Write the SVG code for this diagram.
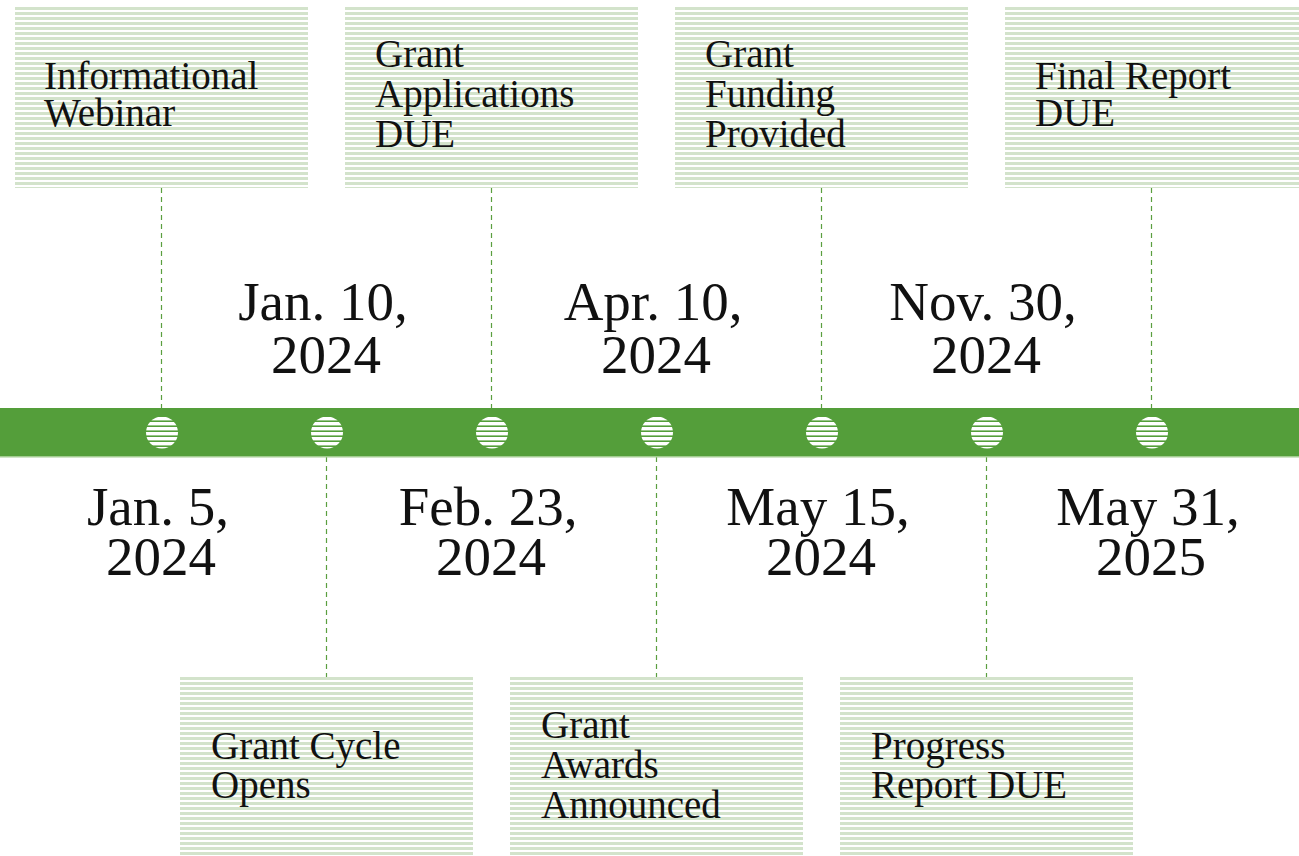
<svg xmlns="http://www.w3.org/2000/svg" width="1299" height="856" viewBox="0 0 1299 856">
  <defs>
    <!-- striped fill used by all milestone boxes -->
    <pattern id="stripes" patternUnits="userSpaceOnUse" x="0" y="7" width="10" height="5">
      <rect x="0" y="0" width="10" height="3" fill="#d3e3cb"/>
    </pattern>
    <!-- striped white fill for the dots on the timeline bar -->
    <pattern id="dotStripes" patternUnits="userSpaceOnUse" x="0" y="417" width="10" height="5">
      <rect x="0" y="0" width="10" height="3.4" fill="#ffffff"/>
    </pattern>
    <style>
      .box { fill: url(#stripes); }
      .lbl { font-family: "Liberation Serif", "Times New Roman", serif; font-size: 39px; fill: #111; }
      .date { font-family: "Liberation Serif", "Times New Roman", serif; font-size: 55px; fill: #111; text-anchor: middle; }
      .conn { stroke: #5a9f3f; stroke-width: 1.2; stroke-dasharray: 5 4; fill: none; }
      .dot { fill: url(#dotStripes); }
    </style>
  </defs>

  <rect width="1299" height="856" fill="#ffffff"/>

  <!-- dashed connectors between boxes and the timeline -->
  <g id="connectors">
    <line class="conn" x1="161.5" y1="188" x2="161.5" y2="408"/>
    <line class="conn" x1="491.5" y1="188" x2="491.5" y2="408"/>
    <line class="conn" x1="821.5" y1="188" x2="821.5" y2="408"/>
    <line class="conn" x1="1151.5" y1="188" x2="1151.5" y2="408"/>
    <line class="conn" x1="326.5" y1="457" x2="326.5" y2="678"/>
    <line class="conn" x1="656.5" y1="457" x2="656.5" y2="678"/>
    <line class="conn" x1="986.5" y1="457" x2="986.5" y2="678"/>
  </g>

  <!-- timeline bar with milestone dots -->
  <g id="timeline">
    <rect x="0" y="408" width="1299" height="48" fill="#549e3a"/>
    <rect x="0" y="456" width="1299" height="1.5" fill="#a3cc91"/>
    <circle class="dot" cx="162" cy="432.5" r="16"/>
    <circle class="dot" cx="327" cy="432.5" r="16"/>
    <circle class="dot" cx="492" cy="432.5" r="16"/>
    <circle class="dot" cx="657" cy="432.5" r="16"/>
    <circle class="dot" cx="822" cy="432.5" r="16"/>
    <circle class="dot" cx="987" cy="432.5" r="16"/>
    <circle class="dot" cx="1152" cy="432.5" r="16"/>
  </g>

  <!-- upper milestones -->
  <g id="node-webinar">
    <rect class="box" x="15" y="7" width="293" height="181"/>
    <text class="lbl"><tspan x="44" y="89">Informational</tspan><tspan x="44" y="126">Webinar</tspan></text>
  </g>
  <g id="node-applications">
    <rect class="box" x="345" y="7" width="293" height="181"/>
    <text class="lbl"><tspan x="375" y="67">Grant</tspan><tspan x="375" y="107">Applications</tspan><tspan x="375" y="147">DUE</tspan></text>
  </g>
  <g id="node-funding">
    <rect class="box" x="675" y="7" width="293" height="181"/>
    <text class="lbl"><tspan x="705" y="67">Grant</tspan><tspan x="705" y="107">Funding</tspan><tspan x="705" y="147">Provided</tspan></text>
  </g>
  <g id="node-final">
    <rect class="box" x="1005" y="7" width="294" height="181"/>
    <text class="lbl"><tspan x="1035" y="89">Final Report</tspan><tspan x="1035" y="126">DUE</tspan></text>
  </g>

  <!-- lower milestones -->
  <g id="node-cycle">
    <rect class="box" x="180" y="677" width="293" height="179"/>
    <text class="lbl"><tspan x="211" y="759">Grant Cycle</tspan><tspan x="211" y="798">Opens</tspan></text>
  </g>
  <g id="node-awards">
    <rect class="box" x="510" y="677" width="293" height="179"/>
    <text class="lbl"><tspan x="541" y="738">Grant</tspan><tspan x="541" y="778">Awards</tspan><tspan x="541" y="818">Announced</tspan></text>
  </g>
  <g id="node-progress">
    <rect class="box" x="840" y="677" width="293" height="179"/>
    <text class="lbl"><tspan x="871" y="759">Progress</tspan><tspan x="871" y="798">Report DUE</tspan></text>
  </g>

  <!-- dates above the bar -->
  <g id="dates-upper">
    <text class="date"><tspan x="323" y="320">Jan. 10,</tspan><tspan x="326" y="373">2024</tspan></text>
    <text class="date"><tspan x="653" y="320">Apr. 10,</tspan><tspan x="656" y="373">2024</tspan></text>
    <text class="date"><tspan x="983" y="320">Nov. 30,</tspan><tspan x="986" y="373">2024</tspan></text>
  </g>

  <!-- dates below the bar -->
  <g id="dates-lower">
    <text class="date"><tspan x="158" y="525">Jan. 5,</tspan><tspan x="161" y="575">2024</tspan></text>
    <text class="date"><tspan x="488" y="525">Feb. 23,</tspan><tspan x="491" y="575">2024</tspan></text>
    <text class="date"><tspan x="818" y="525">May 15,</tspan><tspan x="821" y="575">2024</tspan></text>
    <text class="date"><tspan x="1148" y="525">May 31,</tspan><tspan x="1151" y="575">2025</tspan></text>
  </g>
</svg>
